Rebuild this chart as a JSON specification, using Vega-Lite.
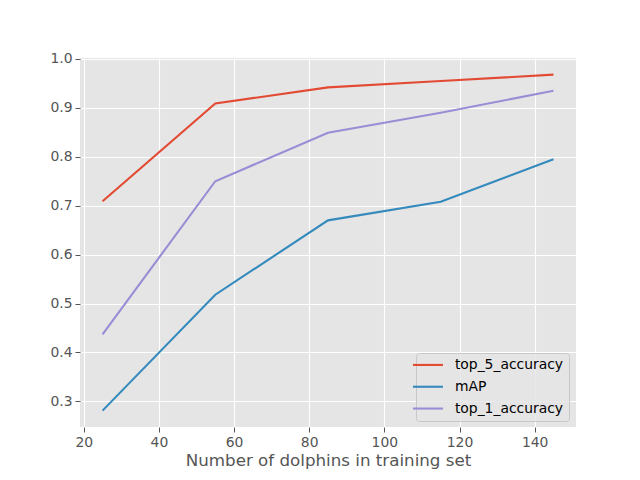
{
  "$schema": "https://vega.github.io/schema/vega-lite/v6.json",
  "width": 496,
  "height": 369,
  "autosize": {"type": "none"},
  "padding": {"left": 80, "top": 58, "right": 64, "bottom": 53},
  "background": "white",
  "config": {
    "font": "DejaVu Sans",
    "view": {"fill": "#E5E5E5", "stroke": null},
    "axis": {
      "domain": false,
      "grid": true,
      "gridColor": "#FFFFFF",
      "gridWidth": 1.1,
      "ticks": true,
      "tickColor": "#555555",
      "tickSize": 5,
      "tickWidth": 1,
      "labelColor": "#555555",
      "labelFontSize": 13.9,
      "labelPadding": 3,
      "titleColor": "#555555",
      "titleFontSize": 16.7,
      "titleFontWeight": "normal"
    }
  },
  "data": {
    "values": [
      {"n": 25, "metric": "top_5_accuracy", "value": 0.709},
      {"n": 55, "metric": "top_5_accuracy", "value": 0.909},
      {"n": 85, "metric": "top_5_accuracy", "value": 0.942},
      {"n": 115, "metric": "top_5_accuracy", "value": 0.955},
      {"n": 145, "metric": "top_5_accuracy", "value": 0.968},
      {"n": 25, "metric": "mAP", "value": 0.281},
      {"n": 55, "metric": "mAP", "value": 0.518},
      {"n": 85, "metric": "mAP", "value": 0.670},
      {"n": 115, "metric": "mAP", "value": 0.708},
      {"n": 145, "metric": "mAP", "value": 0.795},
      {"n": 25, "metric": "top_1_accuracy", "value": 0.437},
      {"n": 55, "metric": "top_1_accuracy", "value": 0.750},
      {"n": 85, "metric": "top_1_accuracy", "value": 0.849},
      {"n": 115, "metric": "top_1_accuracy", "value": 0.890},
      {"n": 145, "metric": "top_1_accuracy", "value": 0.935}
    ]
  },
  "mark": {"type": "line", "strokeWidth": 2.1, "clip": true},
  "encoding": {
    "x": {
      "field": "n",
      "type": "quantitative",
      "title": "Number of dolphins in training set",
      "scale": {"domain": [19, 151], "nice": false, "zero": false},
      "axis": {"values": [20, 40, 60, 80, 100, 120, 140], "titlePadding": 4}
    },
    "y": {
      "field": "value",
      "type": "quantitative",
      "title": null,
      "scale": {"domain": [0.2475, 1.002], "nice": false, "zero": false},
      "axis": {"values": [0.3, 0.4, 0.5, 0.6, 0.7, 0.8, 0.9, 1.0], "format": ".1f"}
    },
    "color": {
      "field": "metric",
      "type": "nominal",
      "sort": ["top_5_accuracy", "mAP", "top_1_accuracy"],
      "scale": {
        "domain": ["top_5_accuracy", "mAP", "top_1_accuracy"],
        "range": ["#E24A33", "#348ABD", "#988ED5"]
      },
      "legend": {
        "title": null,
        "orient": "none",
        "legendX": 336,
        "legendY": 295,
        "symbolType": "M-3,0H3",
        "symbolSize": 100,
        "symbolStrokeWidth": 2.1,
        "labelFontSize": 13.9,
        "labelColor": "#000000",
        "labelOffset": 20,
        "rowPadding": 6.8,
        "padding": 5,
        "fillColor": "rgba(229,229,229,0.8)",
        "strokeColor": "#C8C8C8",
        "cornerRadius": 3
      }
    }
  }
}
